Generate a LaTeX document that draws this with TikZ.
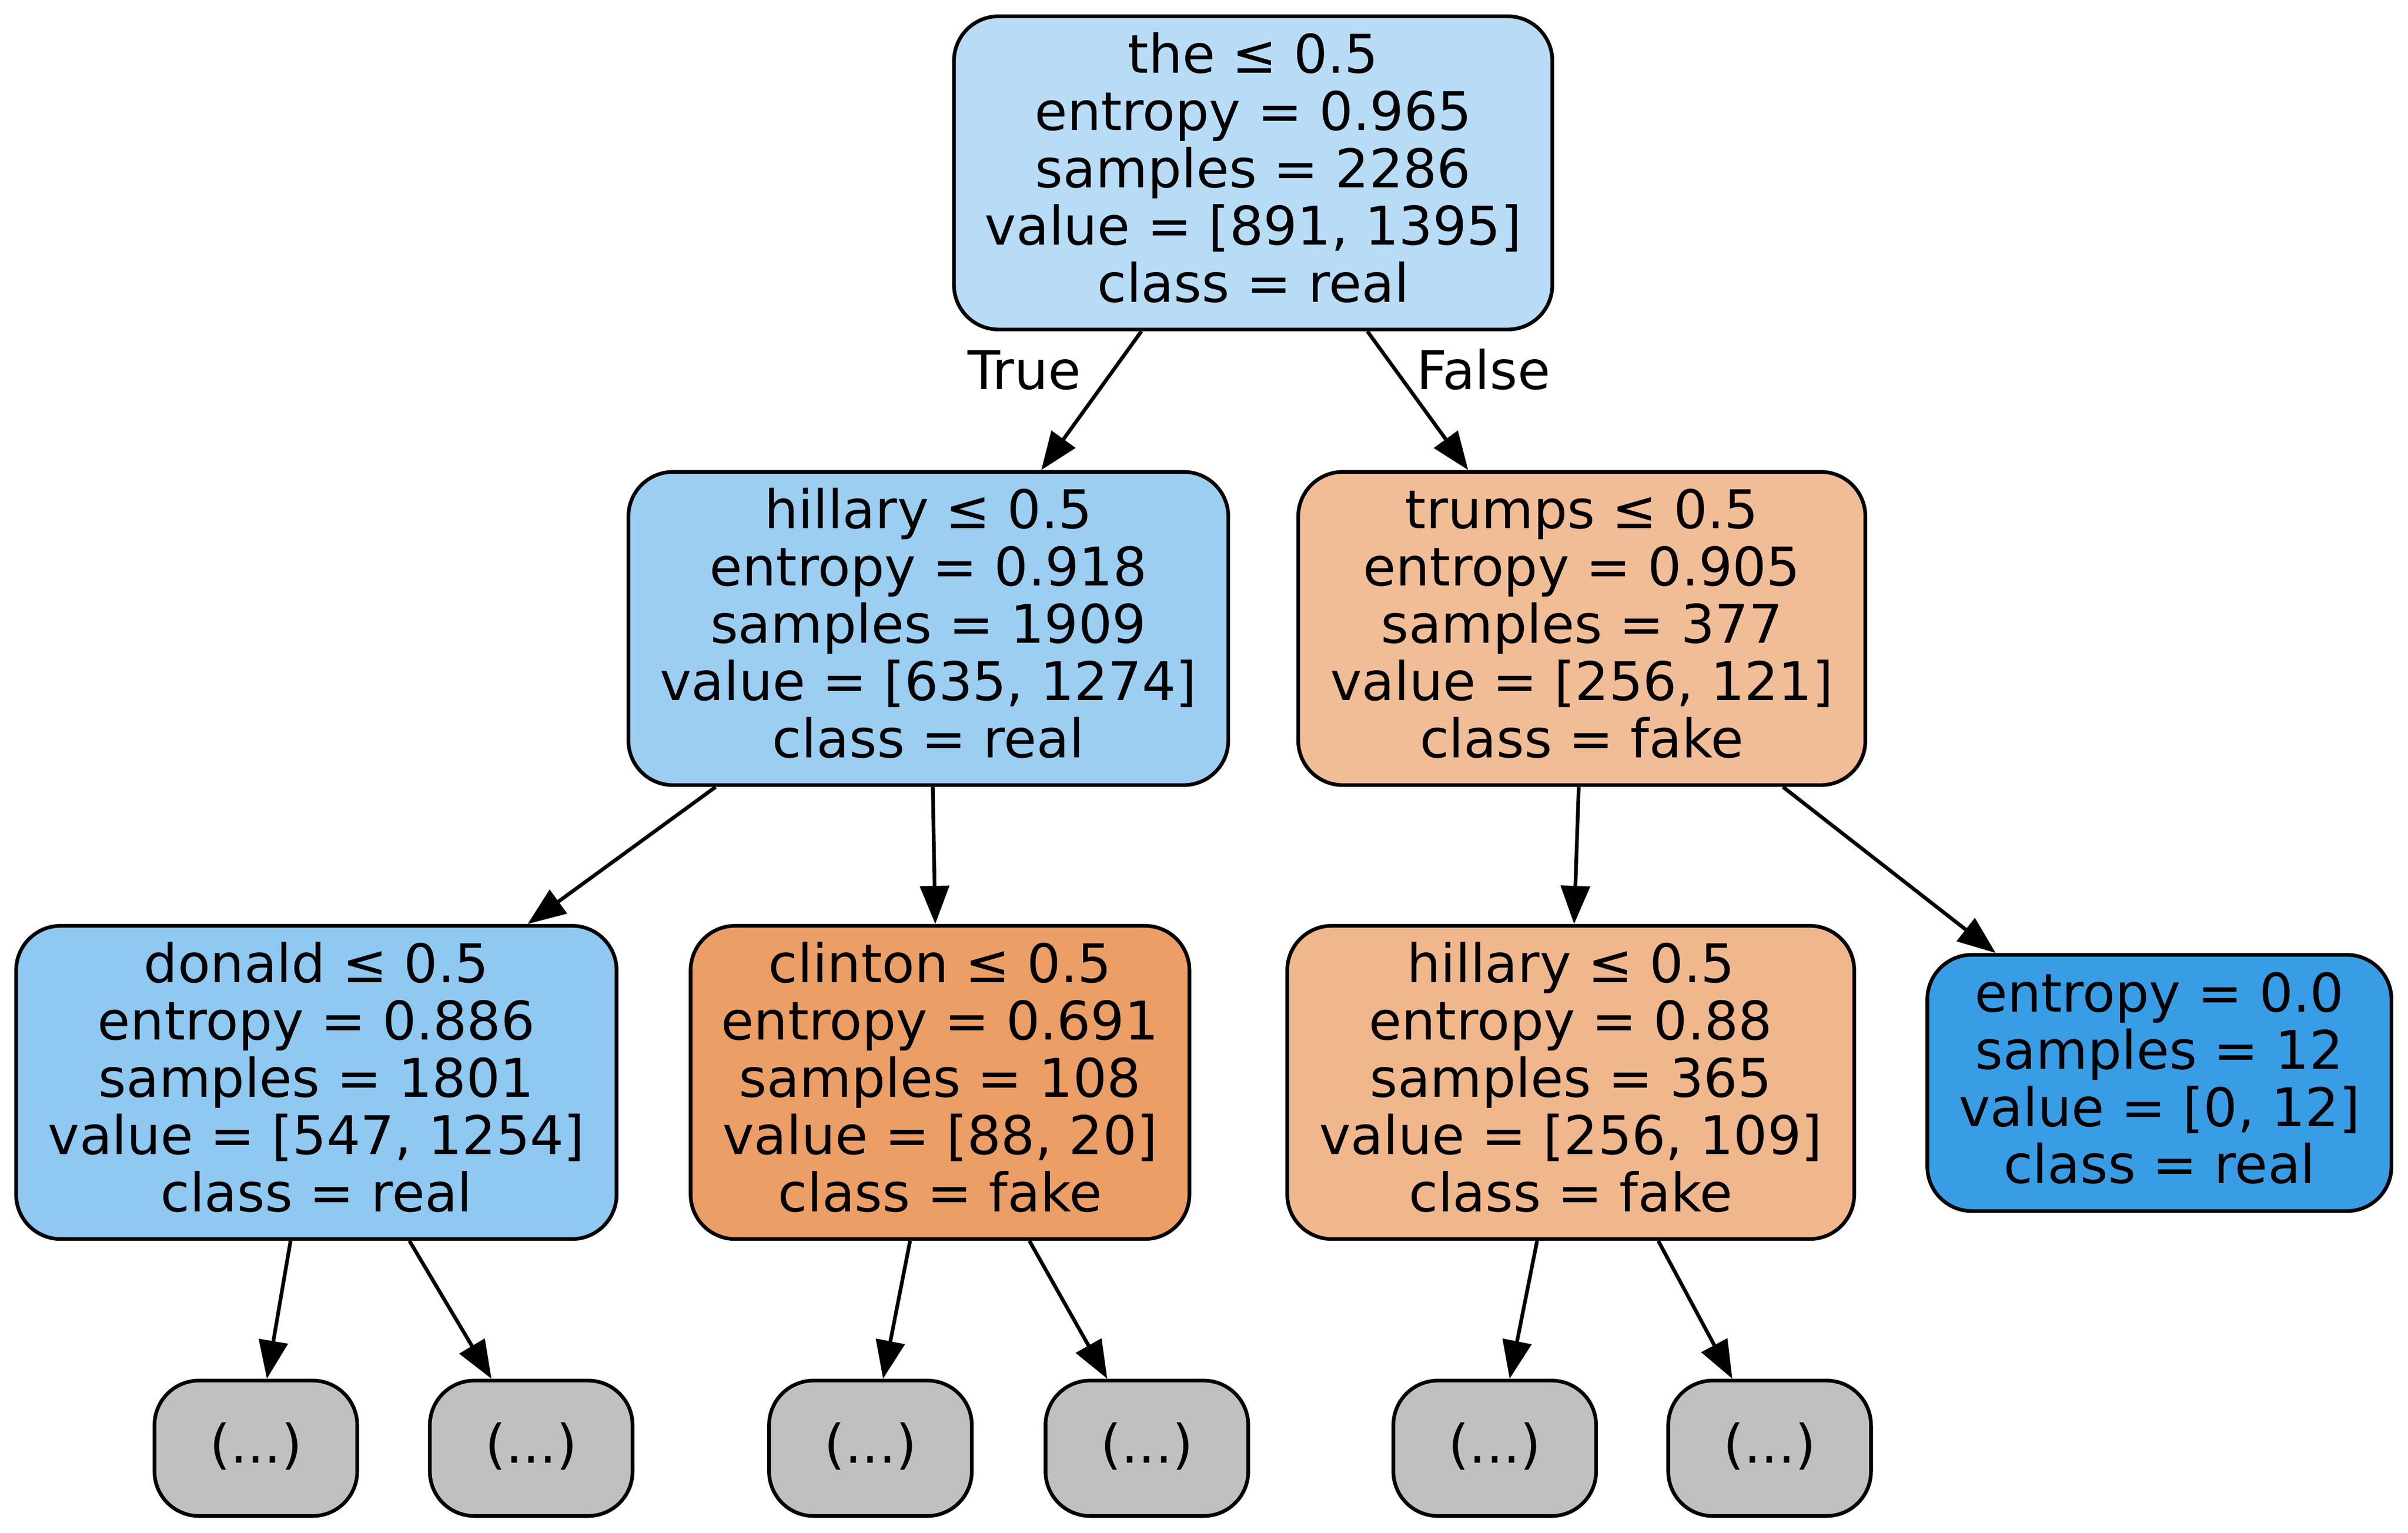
\documentclass[tikz,border=0pt]{standalone}
\usepackage{fontspec}
\setmainfont{DejaVu Sans}
\usetikzlibrary{arrows.meta,calc}
\newcommand\gs{\rule[-3.7pt]{0pt}{16.9pt}}
\definecolor{cRoot}{HTML}{B8DCF6}
\definecolor{cHil}{HTML}{9CCEF2}
\definecolor{cTru}{HTML}{F1BD97}
\definecolor{cDon}{HTML}{8FC8F0}
\definecolor{cCli}{HTML}{EB9E66}
\definecolor{cHilB}{HTML}{F0B78D}
\definecolor{cLeaf}{HTML}{399DE5}
\definecolor{cDots}{HTML}{C0C0C0}
\tikzset{
  treenode/.style={draw=black, line width=1.2pt, rounded corners=14.5pt, align=center,
    inner sep=0pt, font=\fontsize{17.35}{18.65}\selectfont},
  bignode/.style={treenode, minimum height=102pt},
  dotsnode/.style={treenode, fill=cDots, minimum width=66pt, minimum height=44.1pt},
  edgelabel/.style={inner sep=0pt, anchor=base, font=\fontsize{17.35}{18.65}\selectfont},
  treeedge/.style={line width=1.2pt, -{Triangle[length=12.4pt,width=9.4pt]}},
}
\begin{document}
\begin{tikzpicture}[x=0.5pt,y=-0.5pt]
\useasboundingbox (0,0) rectangle (1568,998.2);
% level 0
\node[bignode, fill=cRoot, minimum width=194.8pt] (root) at (816,112.6)
  {\gs the ≤ 0.5\\entropy = 0.965\\samples = 2286\\value = [891, 1395]\\class = real\gs};
% level 1
\node[bignode, fill=cHil, minimum width=195.3pt] (hil) at (604.5,409.35)
  {\gs hillary ≤ 0.5\\entropy = 0.918\\samples = 1909\\value = [635, 1274]\\class = real\gs};
\node[bignode, fill=cTru, minimum width=184.65pt] (tru) at (1030,409.35)
  {\gs trumps ≤ 0.5\\entropy = 0.905\\samples = 377\\value = [256, 121]\\class = fake\gs};
% level 2
\node[bignode, fill=cDon, minimum width=195.5pt] (don) at (206,705)
  {\gs donald ≤ 0.5\\entropy = 0.886\\samples = 1801\\value = [547, 1254]\\class = real\gs};
\node[bignode, fill=cCli, minimum width=162.4pt] (cli) at (612.1,705)
  {\gs clinton ≤ 0.5\\entropy = 0.691\\samples = 108\\value = [88, 20]\\class = fake\gs};
\node[bignode, fill=cHilB, minimum width=184.6pt] (hilb) at (1022.8,705)
  {\gs hillary ≤ 0.5\\entropy = 0.88\\samples = 365\\value = [256, 109]\\class = fake\gs};
\node[treenode, fill=cLeaf, minimum width=151.1pt, minimum height=83.45pt] (leaf) at (1406.1,705.35)
  {\gs entropy = 0.0\\samples = 12\\value = [0, 12]\\class = real\gs};
% level 3
\node[dotsnode] (d1) at (166.6,943.3) {\gs(...)};
\node[dotsnode] (d2) at (345.9,943.3) {\gs(...)};
\node[dotsnode] (d3) at (566.8,943.3) {\gs(...)};
\node[dotsnode] (d4) at (746.8,943.3) {\gs(...)};
\node[dotsnode] (d5) at (973.3,943.3) {\gs(...)};
\node[dotsnode] (d6) at (1152.3,943.3) {\gs(...)};
% edge labels
\node[edgelabel] (tlab) at (667,253.6) {True};
\node[edgelabel] (flab) at (966,253.6) {False};
% edges
\draw[treeedge] ($(root.south)+(-72.8,0)$) -- ($(hil.north)+(73.5,0)$);
\draw[treeedge] ($(root.south)+(74.4,0)$) -- ($(tru.north)+(-74,0)$);
\draw[treeedge] ($(hil.south)+(-138.5,0)$) -- ($(don.north)+(137.6,0)$);
\draw[treeedge] ($(hil.south)+(2.9,0)$) -- ($(cli.north)+(-3.1,0)$);
\draw[treeedge] ($(tru.south)+(-2,0)$) -- ($(hilb.north)+(2.2,0)$);
\draw[treeedge] ($(tru.south)+(131,0)$) -- ($(leaf.north)+(-106.6,0)$);
\draw[treeedge] ($(don.south)+(-16.8,0)$) -- ($(d1.north)+(7.2,0)$);
\draw[treeedge] ($(don.south)+(60.6,0)$) -- ($(d2.north)+(-25.9,0)$);
\draw[treeedge] ($(cli.south)+(-19.5,0)$) -- ($(d3.north)+(8.2,0)$);
\draw[treeedge] ($(cli.south)+(58.2,0)$) -- ($(d4.north)+(-25.8,0)$);
\draw[treeedge] ($(hilb.south)+(-21.9,0)$) -- ($(d5.north)+(9.7,0)$);
\draw[treeedge] ($(hilb.south)+(57,0)$) -- ($(d6.north)+(-24.3,0)$);
\end{tikzpicture}
\end{document}
